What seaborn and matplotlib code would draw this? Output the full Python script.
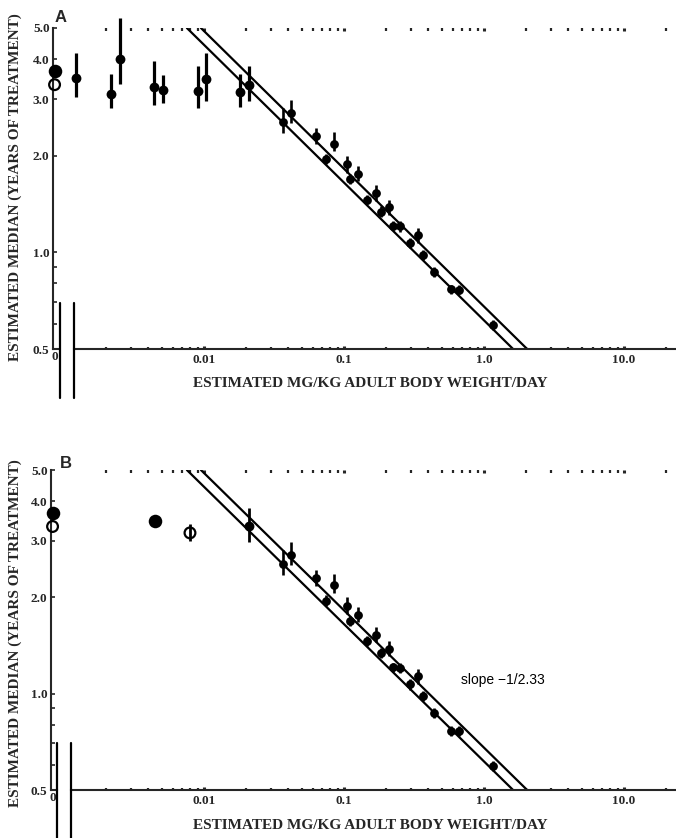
import matplotlib
matplotlib.use("Agg")
import matplotlib.pyplot as plt
import seaborn as sns
import pandas as pd
from matplotlib.lines import Line2D
from matplotlib.ticker import FixedLocator, FixedFormatter, NullFormatter

# ---------------- data ----------------
zero_filled_median = [3.68]
zero_open_median = [3.33]

# panel A: low-dose groups (above the fitted lines)
lowA_dose = [0.00122, 0.00217, 0.00251, 0.00440, 0.00509, 0.00906, 0.0103, 0.0181, 0.0210]
lowA_med = [3.50, 3.12, 4.01, 3.28, 3.21, 3.19, 3.48, 3.15, 3.33]
lowA_lo = [3.04, 2.81, 3.35, 2.87, 2.93, 2.81, 2.97, 2.83, 2.97]
lowA_hi = [4.18, 3.60, 5.37, 3.95, 3.58, 3.81, 4.18, 3.60, 3.81]

# dose-response groups (shared by both panels)
resp_dose = [0.0368, 0.0418, 0.0631, 0.0849, 0.0744, 0.1057, 0.1254, 0.1104, 0.168, 0.1466,
             0.211, 0.1837, 0.2229, 0.251, 0.34, 0.296, 0.365, 0.44, 0.581, 0.663, 1.165]
resp_med = [2.55, 2.72, 2.30, 2.18, 1.95, 1.88, 1.76, 1.69, 1.53, 1.457,
            1.383, 1.34, 1.21, 1.204, 1.135, 1.07, 0.984, 0.868, 0.767, 0.763, 0.593]
resp_lo = [2.35, 2.53, 2.17, 2.07, 1.88, 1.77, 1.67, 1.63, 1.45, 1.41,
           1.31, 1.29, 1.17, 1.16, 1.07, 1.03, 0.95, 0.84, 0.74, 0.74, 0.575]
resp_hi = [2.82, 2.98, 2.44, 2.37, 2.03, 2.00, 1.86, 1.75, 1.62, 1.51,
           1.46, 1.39, 1.25, 1.25, 1.19, 1.11, 1.02, 0.90, 0.79, 0.79, 0.615]

# panel B: pooled low-dose groups
pooledB_filled_dose = [0.00447]
pooledB_filled_med = [3.47]
pooledB_filled_lo = [3.36]
pooledB_filled_hi = [3.60]
pooledB_open_dose = [0.00794]
pooledB_open_med = [3.18]
pooledB_open_lo = [3.00]
pooledB_open_hi = [3.38]
lowB_dose = [0.0210]
lowB_med = [3.33]
lowB_lo = [2.97]
lowB_hi = [3.81]

# fitted lines: median = C * dose ** slope
fit_slope = -1 / 2.33
fit_C = [0.614, 0.678]

y_ticks = [0.5, 1.0, 2.0, 3.0, 4.0, 5.0]
y_ticklabels = ["0.5", "1.0", "2.0", "3.0", "4.0", "5.0"]
y_minor = [0.6, 0.7, 0.8, 0.9]
x_ticks = [0.01, 0.1, 1.0, 10.0]
x_ticklabels = ["0.01", "0.1", "1.0", "10.0"]
x_minor = [m * 10.0 ** k for k in range(-3, 2) for m in range(2, 10)]

xlabel = "ESTIMATED MG/KG ADULT BODY WEIGHT/DAY"
ylabel = "ESTIMATED MEDIAN (YEARS OF TREATMENT)"
slope_text = "slope \u22121/2.33"

# ---------------- style ----------------
sns.set_style("white")
plt.rcParams['font.family'] = ['Liberation Serif', 'DejaVu Serif']
plt.rcParams['axes.linewidth'] = 1.5

W, H = 676, 838
fig = plt.figure(figsize=(W / 100, H / 100), dpi=100)


def fx(px):
    return px / W


def fy(py):
    return 1 - py / H


panels = [
    dict(letter="A", top=28, bottom=349, yaxis_x=53, brk=(60, 74), brk_y=(303, 398),
         xlabel_y=383, ylabel_y=187, letter_xy=(61, 17)),
    dict(letter="B", top=470, bottom=790, yaxis_x=51, brk=(57, 71), brk_y=(743, 838),
         xlabel_y=825, ylabel_y=633, letter_xy=(66, 464)),
]

bold_serif = dict(family=['Liberation Serif', 'DejaVu Serif'], weight='bold')
tick_fs = 9.5

for i, p in enumerate(panels):
    h = (p['bottom'] - p['top']) / H
    ax0 = fig.add_axes([fx(p['yaxis_x']), fy(p['bottom']), fx(6), h])
    left = p['brk'][1]
    ax = fig.add_axes([fx(left), fy(p['bottom']), fx(W - left), h], sharey=ax0)
    for a in (ax0, ax):
        a.set_facecolor('none')
    ax0.set_yscale('log')
    ax0.set_ylim(0.5, 5.0)
    ax0.set_xlim(-0.35, 1.0)
    ax.set_xscale('log')
    ax.set_xlim(10 ** (-3 + (left - 64) / 140), 10 ** (-3 + (W - 64) / 140))

    # zero-dose axis
    for s in ('top', 'right'):
        ax0.spines[s].set_visible(False)
    ax0.spines['left'].set_linewidth(1.5)
    ax0.spines['bottom'].set_linewidth(1.5)
    ax0.yaxis.set_major_locator(FixedLocator(y_ticks))
    ax0.yaxis.set_major_formatter(FixedFormatter(y_ticklabels))
    ax0.yaxis.set_minor_locator(FixedLocator(y_minor))
    ax0.yaxis.set_minor_formatter(NullFormatter())
    ax0.tick_params(axis='y', which='both', direction='in', length=3, width=1.2,
                    pad=2.5, labelsize=tick_fs, left=True, right=False)
    for t in ax0.get_yticklabels():
        t.set_fontweight('bold')
    ax0.set_xticks([0])
    ax0.set_xticklabels(["0"], fontsize=tick_fs, fontweight='bold')
    ax0.tick_params(axis='x', length=0, pad=1.5)

    # main log axis
    for s in ('top', 'right', 'left'):
        ax.spines[s].set_visible(False)
    ax.spines['bottom'].set_linewidth(1.5)
    ax.xaxis.set_major_locator(FixedLocator(x_ticks))
    ax.xaxis.set_major_formatter(FixedFormatter(x_ticklabels))
    ax.xaxis.set_minor_locator(FixedLocator(x_minor))
    ax.xaxis.set_minor_formatter(NullFormatter())
    ax.tick_params(axis='x', which='major', direction='in', length=2.5, width=2.2,
                   top=True, bottom=True, labeltop=False, pad=3.5, labelsize=tick_fs)
    ax.tick_params(axis='x', which='minor', direction='in', length=1.8, width=1.6,
                   top=True, bottom=True)
    for t in ax.get_xticklabels():
        t.set_fontweight('bold')
    ax.tick_params(axis='y', which='both', left=False, right=False,
                   labelleft=False, labelright=False)

    # fitted lines (drawn between median 5.0 and 0.5)
    for C in fit_C:
        x_top = (5.0 / C) ** (1 / fit_slope)
        x_bot = (0.5 / C) ** (1 / fit_slope)
        df_line = pd.DataFrame({'dose': [x_top, x_bot], 'median': [5.0, 0.5]})
        sns.lineplot(data=df_line, x='dose', y='median', ax=ax, color='black',
                     lw=1.6, estimator=None, sort=False, zorder=2)

    # dose-response groups
    ax.vlines(resp_dose, resp_lo, resp_hi, color='black', lw=1.9, zorder=3)
    sns.scatterplot(x=resp_dose, y=resp_med, ax=ax, color='black', s=40,
                    linewidth=0, zorder=4)

    # zero-dose groups
    sns.scatterplot(x=[0], y=zero_filled_median, ax=ax0, color='black', s=95,
                    linewidth=0, zorder=4, clip_on=False)
    sns.scatterplot(x=[0], y=zero_open_median, ax=ax0, facecolor='none',
                    edgecolor='black', s=60, linewidth=1.6, zorder=4, clip_on=False)

    if p['letter'] == 'A':
        ax.vlines(lowA_dose, lowA_lo, lowA_hi, color='black', lw=2.3, zorder=3,
                  clip_on=False)
        sns.scatterplot(x=lowA_dose, y=lowA_med, ax=ax, color='black', s=50,
                        linewidth=0, zorder=4, clip_on=False)
    else:
        ax.vlines(pooledB_filled_dose, pooledB_filled_lo, pooledB_filled_hi,
                  color='black', lw=2.0, zorder=3)
        sns.scatterplot(x=pooledB_filled_dose, y=pooledB_filled_med, ax=ax,
                        color='black', s=95, linewidth=0, zorder=4)
        ax.vlines(pooledB_open_dose, pooledB_open_lo, pooledB_open_hi,
                  color='black', lw=2.0, zorder=3)
        sns.scatterplot(x=pooledB_open_dose, y=pooledB_open_med, ax=ax,
                        facecolor='none', edgecolor='black', s=60, linewidth=1.6,
                        zorder=4)
        ax.vlines(lowB_dose, lowB_lo, lowB_hi, color='black', lw=2.0, zorder=3)
        sns.scatterplot(x=lowB_dose, y=lowB_med, ax=ax, color='black', s=50,
                        linewidth=0, zorder=4)
        fig.text(fx(503), fy(680), slope_text, ha='center', va='center',
                 fontsize=10, family=['Liberation Sans', 'DejaVu Sans'], color='black')

    ax.set_xlabel("")
    ax.set_ylabel("")
    ax0.set_xlabel("")
    ax0.set_ylabel("")

    # axis break marks
    for bx in p['brk']:
        fig.add_artist(Line2D([fx(bx), fx(bx)], [fy(p['brk_y'][0]), fy(p['brk_y'][1])],
                              color='black', lw=1.6))

    # labels
    fig.text(fx(370), fy(p['xlabel_y']), xlabel, ha='center', va='center',
             fontsize=11, **bold_serif)
    fig.text(fx(15), fy(p['ylabel_y']), ylabel, ha='center', va='center',
             rotation=90, fontsize=11, **bold_serif)
    fig.text(fx(p['letter_xy'][0]), fy(p['letter_xy'][1]), p['letter'], ha='center',
             va='center', fontsize=12, weight='bold',
             family=['Liberation Sans', 'DejaVu Sans'])

fig.savefig("out.png", dpi=100)
